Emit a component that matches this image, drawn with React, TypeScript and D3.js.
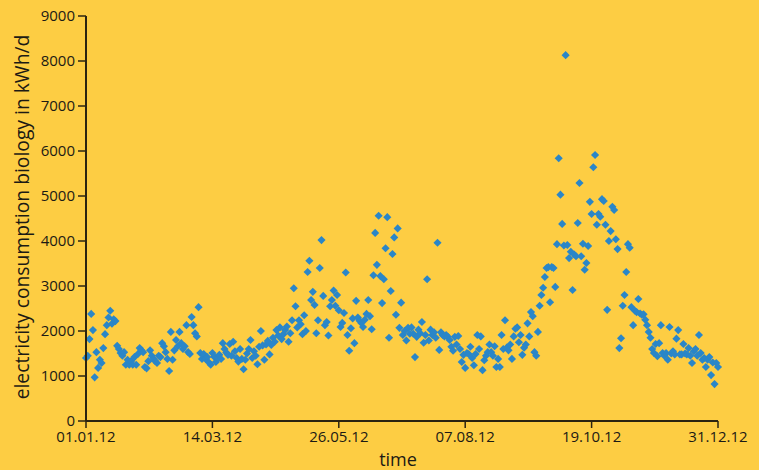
import React from "react";
import * as d3 from "d3";

// Daily electricity consumption (kWh/d), 2012, index 0 = 01.01.2012
const kwh: number[] = [
  1400, 1450, 1820, 2380, 2020, 970, 1530, 1180, 1360, 1290,
  1620, 1930, 2130, 2300, 2450, 2160, 2260, 2220, 1670, 1600,
  1510, 1450, 1530, 1250, 1360, 1250, 1330, 1250, 1420, 1250,
  1490, 1620, 1570, 1530, 1200, 1170, 1330, 1570, 1450, 1380,
  1330, 1290, 1450, 1420, 1730, 1660, 1530, 1380, 1110, 1980,
  1360, 1570, 1800, 1660, 1980, 1730, 1600, 1660, 2130, 1530,
  1490, 2310, 2130, 1950, 1880, 2530, 1510, 1380, 1490, 1380,
  1420, 1300, 1250, 1510, 1430, 1310, 1400, 1470, 1380, 1730,
  1600, 1520, 1470, 1710, 1450, 1760, 1550, 1400, 1320, 1600,
  1380, 1150, 1360, 1500, 1600, 1800, 1400, 1550, 1450, 1260,
  1650, 2000, 1680, 1360, 1700, 1780, 1480, 1690, 1850, 1760,
  2020, 1900, 2080, 1820, 1930, 2020, 2100, 1760, 1950, 2240,
  2950, 2550, 2080, 2240, 2150, 1930, 2350, 2000, 3310, 3560,
  2690, 2870, 2580, 1950, 2240, 3400, 4020, 2780, 2130, 2200,
  1900, 2550, 2690, 2900, 2560, 2800, 2460, 2090, 2180, 2400,
  3300, 1910, 1560, 2060, 2280, 1730, 2670, 2300, 2230, 2180,
  2090, 2250, 2380, 2690, 2330, 2040, 3240, 4180, 3470, 4560,
  3220, 2620, 3150, 3840, 4530, 1850, 2890, 3710, 4080, 2360,
  4280, 2070, 2630, 1910, 2000, 1790, 2070, 1940, 2080, 1940,
  1420, 1870, 2030, 1950, 2200, 1740, 1910, 3150, 1790, 2030,
  1910, 1970, 1850, 3960, 1580, 1970, 1910, 1880, 1910, 1870,
  1800, 1650, 1560, 1870, 1700, 1890, 1600, 1310, 1470, 1180,
  1510, 1490, 1650, 1400, 1240, 1490, 1910, 1600, 1880, 1130,
  1350, 1450, 1530, 1700, 1530, 1450, 1660, 1200, 1380, 1200,
  1910, 1600, 2240, 1630, 1570, 1700, 1380, 1880, 2050, 2080,
  1750, 1910, 1470, 1630, 1700, 2170, 1880, 2420, 2330, 1530,
  1450, 1980, 2560, 2800, 2960, 3200, 3400, 3420, 2640, 3420,
  3400, 2980, 3930, 5840, 5030, 4380, 3900, 8130, 3910, 3620,
  3760, 2910, 3700, 3660, 4400, 5290, 3660, 3940, 3360, 3510,
  3890, 4870, 4600, 5640, 5910, 4360, 4600, 4540, 4930, 4890,
  4360, 2470, 4000, 4220, 4760, 4690, 4040, 3820, 1620, 1840,
  2560, 2800, 3310, 3930, 3850, 2530, 2130, 2450, 2420, 2710,
  2390, 2360, 2370, 2250, 2130, 1980, 1850, 1600, 1510, 1710,
  1440, 1730, 2130, 1510, 1450, 1510, 1360, 2090, 1500, 1550,
  1480, 1830, 2020, 1480, 1480, 1710, 1500, 1480, 1620, 1450,
  1290, 1550, 1600, 1450, 1910, 1510, 1360, 1400, 1200, 1360,
  1420, 1020, 1300, 820, 1290, 1200,
];

const startDate = new Date(2012, 0, 1);
const endDate = new Date(2012, 11, 31);
const xTickLabels = ["01.01.12", "14.03.12", "26.05.12", "07.08.12", "19.10.12", "31.12.12"];
const yTicks = [0, 1000, 2000, 3000, 4000, 5000, 6000, 7000, 8000, 9000];
const yTitle = "electricity consumption biology in kWh/d";
const xTitle = "time";

const W = 759;
const H = 470;
const BG = "#fdcd43";
const DOT = "#2a86c8";
const AXIS = "#2b2410";
const TEXT = "#1c1a14";
const FONT = "'Open Sans', 'DejaVu Sans', sans-serif";

const parse = d3.timeParse("%d.%m.%y");

export default function App() {
  const x = d3.scaleTime().domain([startDate, endDate]).range([86, 718]);
  const y = d3.scaleLinear().domain([0, 9000]).range([421, 16]);
  const diamond = d3.symbol().type(d3.symbolSquare).size(33)() as string;
  const dates = kwh.map((_, i) => d3.timeDay.offset(startDate, i));

  return (
    <svg
      width={W}
      height={H}
      style={{ position: "absolute", left: 0, top: 0, display: "block" }}
      fontFamily={FONT}
    >
      <rect x={0} y={0} width={W} height={H} fill={BG} />
      <g>
        {kwh.map((v, i) => (
          <path
            key={i}
            d={diamond}
            fill={DOT}
            transform={`translate(${x(dates[i])},${y(v)}) rotate(45)`}
          />
        ))}
      </g>
      <g>
        <line x1={86} x2={86} y1={y(9000)} y2={y(0)} stroke={AXIS} strokeWidth={2} />
        {yTicks.map((t) => (
          <g key={t} transform={`translate(0,${y(t)})`}>
            <line x1={78} x2={86} stroke={AXIS} strokeWidth={1.5} />
            <text x={75} dy="0.35em" textAnchor="end" fontSize={15} fontWeight={500} fill={TEXT}>
              {t}
            </text>
          </g>
        ))}
      </g>
      <g>
        <line x1={86} x2={718} y1={421} y2={421} stroke={AXIS} strokeWidth={2} />
        {xTickLabels.map((lab) => {
          const d = parse(lab) as Date;
          const px = x(d);
          return (
            <g key={lab} transform={`translate(${px},0)`}>
              <line y1={421} y2={428} stroke={AXIS} strokeWidth={1.5} />
              <text y={442} textAnchor="middle" fontSize={15} fontWeight={500} fill={TEXT}>
                {lab}
              </text>
            </g>
          );
        })}
      </g>
      <text
        transform={`translate(29,217) rotate(-90)`}
        textAnchor="middle"
        fontSize={19.3}
        fontWeight={500}
        fill={TEXT}
      >
        {yTitle}
      </text>
      <text x={398} y={466} textAnchor="middle" fontSize={18} fontWeight={500} fill={TEXT}>
        {xTitle}
      </text>
    </svg>
  );
}
